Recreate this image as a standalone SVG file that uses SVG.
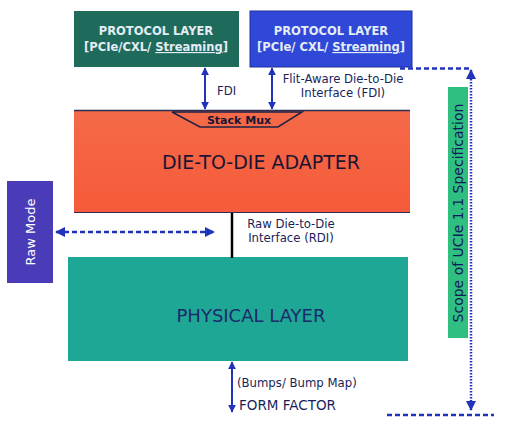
<svg xmlns="http://www.w3.org/2000/svg" width="512" height="439" viewBox="0 0 512 439">
<style>
.t{font-family:"DejaVu Sans",sans-serif;}
.hdr{font-family:"DejaVu Sans",sans-serif;font-weight:bold;font-size:11.5px;fill:#e4ecf4;text-anchor:middle;}
.lbl{font-family:"DejaVu Sans",sans-serif;font-size:11.7px;fill:#1a1f5c;}
.arr{stroke:#2233bb;stroke-width:2;fill:none;}
.dash{stroke:#2233bb;stroke-width:2.5;fill:none;stroke-dasharray:5,3;}
.dot{stroke:#2233bb;stroke-width:2.5;fill:none;stroke-dasharray:1.5,1.5;}
</style>
<defs>
<marker id="ah" viewBox="0 0 10 10" refX="9" refY="5" markerWidth="4" markerHeight="4" orient="auto-start-reverse">
<path d="M0,0 L10,5 L0,10 z" fill="#2233bb"/>
</marker>
<linearGradient id="og" x1="0" y1="0" x2="0" y2="1">
<stop offset="0" stop-color="#f46a48"/>
<stop offset="1" stop-color="#f65a3a"/>
</linearGradient>
</defs>
<rect width="512" height="439" fill="#ffffff"/>
<g id="proto1">
<rect x="74" y="11" width="165" height="56" fill="#1e6b5c"/>
<text class="hdr" x="156" y="35">PROTOCOL LAYER</text>
<text class="hdr" x="156" y="51" font-size="12">[PCIe/CXL/ <tspan text-decoration="underline">Streaming</tspan>]</text>
</g>
<g id="proto2">
<rect x="250" y="11" width="162" height="56" fill="#2f48d8" stroke="#1e2f9a" stroke-width="1"/>
<text class="hdr" x="331" y="35">PROTOCOL LAYER</text>
<text class="hdr" x="331" y="51" font-size="12">[PCIe/ CXL/ <tspan text-decoration="underline">Streaming</tspan>]</text>
</g>
<g id="adapter">
<rect x="74" y="110" width="336" height="103" fill="url(#og)"/>
<line x1="74" y1="110.5" x2="410" y2="110.5" stroke="#2a2f55" stroke-width="1.5"/>
<line x1="74" y1="212.5" x2="410" y2="212.5" stroke="#2a2f55" stroke-width="1"/>
<text class="t" x="261" y="169" font-size="19" fill="#1a1433" text-anchor="middle">DIE-TO-DIE ADAPTER</text>
</g>
<g id="stackmux">
<path d="M172,112 L302,112 L278,127 L200,127 Z" fill="#f46a48" stroke="#1f2244" stroke-width="1.5"/>
<text class="t" x="239" y="124" font-size="11" font-weight="bold" fill="#1a1433" text-anchor="middle">Stack Mux</text>
</g>
<g id="rawmode">
<rect x="7" y="181" width="46" height="102" fill="#4a3cb8"/>
<text class="t" transform="translate(35,232) rotate(-90)" font-size="13" fill="#ffffff" text-anchor="middle">Raw Mode</text>
</g>
<g id="phy">
<rect x="68" y="257" width="340" height="104" fill="#1fa796"/>
<text class="t" x="251" y="322" font-size="18" fill="#1a2a6a" text-anchor="middle">PHYSICAL LAYER</text>
</g>
<g id="scope">
<rect x="448" y="87" width="20" height="251" fill="#2fbf80"/>
<text class="t" transform="translate(463,213) rotate(-90)" font-size="14" fill="#101a5a" text-anchor="middle">Scope of UCIe 1.1 Specification</text>
</g>
<g id="connectors">
<line class="arr" x1="205" y1="68" x2="205" y2="109" marker-start="url(#ah)" marker-end="url(#ah)"/>
<line class="arr" x1="272" y1="68" x2="272" y2="109" marker-start="url(#ah)" marker-end="url(#ah)"/>
<line class="dash" x1="400" y1="68.5" x2="471" y2="68.5"/>
<line class="dot" x1="471" y1="70" x2="471" y2="410" marker-start="url(#ah)" marker-end="url(#ah)"/>
<line class="dash" x1="387" y1="415" x2="494" y2="415"/>
<line class="dash" x1="56" y1="232" x2="214" y2="232" stroke-width="2" marker-start="url(#ah)" marker-end="url(#ah)"/>
<line x1="232" y1="213" x2="232" y2="258" stroke="#000000" stroke-width="2.5"/>
<line class="arr" x1="232" y1="362" x2="232" y2="412" marker-start="url(#ah)" marker-end="url(#ah)"/>
</g>
<g id="labels">
<text class="lbl" x="217" y="95" font-size="12">FDI</text>
<text class="lbl" x="343" y="83" text-anchor="middle">Flit-Aware Die-to-Die</text>
<text class="lbl" x="343" y="97" text-anchor="middle">Interface (FDI)</text>
<text class="lbl" x="291" y="228" text-anchor="middle">Raw Die-to-Die</text>
<text class="lbl" x="291" y="242" text-anchor="middle">Interface (RDI)</text>
<text class="lbl" x="237" y="387">(Bumps/ Bump Map)</text>
<text class="t" x="239" y="410" font-size="13.5" fill="#1a1f5c">FORM FACTOR</text>
</g>
</svg>
